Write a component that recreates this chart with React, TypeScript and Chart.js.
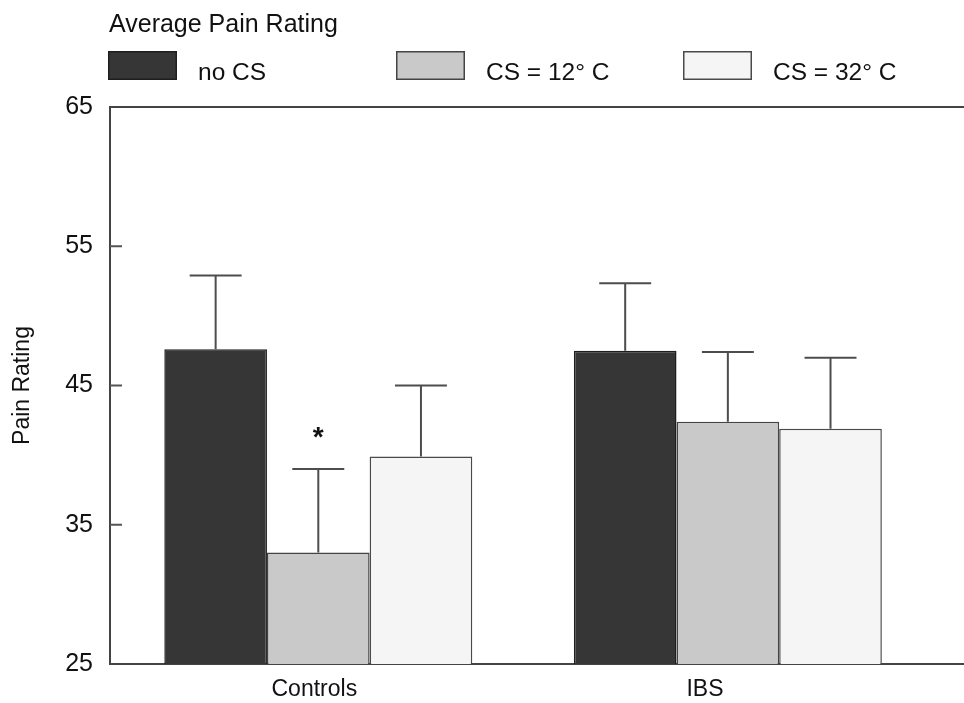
import { useEffect, useRef } from "react";
import { Chart, registerables } from "chart.js";

Chart.register(...registerables);

const groups = ["Controls", "IBS"];
const seriesNames = ["no CS", "CS = 12° C", "CS = 32° C"];
const noCS = [47.6, 47.5];
const cs12 = [33.0, 42.4];
const cs32 = [39.9, 41.9];
const noCSErr = [52.9, 52.35];
const cs12Err = [39.0, 47.4];
const cs32Err = [45.0, 47.0];
const noCSMarks = ["", ""];
const cs12Marks = ["*", ""];
const cs32Marks = ["", ""];
const yTicks = [25, 35, 45, 55, 65];
const chartTitle = "Average Pain Rating";
const yTitle = "Pain Rating";

const FONT = "'Liberation Sans', Arial, Helvetica, sans-serif";
const fills = ["#363636", "#c9c9c9", "#f5f5f5"];
const borders = ["#1e1e1e", "#444444", "#4a4a4a"];

const errorBarPlugin = {
  id: "errorBars",
  afterDatasetsDraw(chart: any) {
    const { ctx } = chart;
    const yScale = chart.scales.y;
    chart.data.datasets.forEach((ds: any, di: number) => {
      const meta = chart.getDatasetMeta(di);
      meta.data.forEach((bar: any, i: number) => {
        const top = yScale.getPixelForValue(ds.errTop[i]);
        const half = bar.width * 0.253;
        ctx.save();
        ctx.strokeStyle = "#4d4d4d";
        ctx.lineWidth = 2;
        ctx.beginPath();
        ctx.moveTo(bar.x, bar.y);
        ctx.lineTo(bar.x, top);
        ctx.moveTo(bar.x - half, top);
        ctx.lineTo(bar.x + half, top);
        ctx.stroke();
        const mark = ds.marks[i];
        if (mark) {
          ctx.fillStyle = "#111";
          ctx.font = `bold 28px ${FONT}`;
          ctx.textAlign = "center";
          ctx.textBaseline = "alphabetic";
          ctx.fillText(mark, bar.x, top - 23);
        }
        ctx.restore();
      });
    });
  },
};

const frameAndLegendPlugin = {
  id: "frameLegend",
  afterDraw(chart: any) {
    const { ctx, chartArea } = chart;
    const yScale = chart.scales.y;
    ctx.save();
    // inward tick marks
    ctx.strokeStyle = "#555";
    ctx.lineWidth = 2;
    ctx.beginPath();
    yScale.ticks.forEach((t: any) => {
      if (t.value === yScale.min || t.value === yScale.max) return;
      const py = yScale.getPixelForValue(t.value);
      ctx.moveTo(chartArea.left, py);
      ctx.lineTo(chartArea.left + 12, py);
    });
    ctx.stroke();

    // title
    ctx.fillStyle = "#111";
    ctx.font = `25px ${FONT}`;
    ctx.textAlign = "left";
    ctx.textBaseline = "alphabetic";
    ctx.fillText(chartTitle, chartArea.left - 1, 32);

    // legend
    const cols = [-2, 286, 573];
    chart.data.datasets.forEach((ds: any, di: number) => {
      const bx = chartArea.left + cols[di];
      const by = 51;
      ctx.fillStyle = ds.backgroundColor;
      ctx.fillRect(bx, by, 69, 29);
      ctx.strokeStyle = ds.borderColor;
      ctx.lineWidth = 1.5;
      ctx.strokeRect(bx + 0.75, by + 0.75, 67.5, 27.5);
      ctx.fillStyle = "#111";
      ctx.font = `24.5px ${FONT}`;
      ctx.fillText(ds.label, bx + 90, 80);
    });
    ctx.restore();
  },
};

export default function App() {
  const ref = useRef<HTMLCanvasElement | null>(null);

  useEffect(() => {
    if (!ref.current) return;
    const series = [noCS, cs12, cs32];
    const errs = [noCSErr, cs12Err, cs32Err];
    const marks = [noCSMarks, cs12Marks, cs32Marks];
    const chart = new Chart(ref.current, {
      type: "bar",
      data: {
        datasets: series.map((vals, si) => ({
          label: seriesNames[si],
          data: vals.map((v, i) => ({ x: i, y: v })),
          errTop: errs[si],
          marks: marks[si],
          backgroundColor: fills[si],
          borderColor: borders[si],
          borderWidth: 1.5,
          categoryPercentage: 0.752,
          barPercentage: 1,
          xAxisID: "x",
          yAxisID: "y",
        })) as any,
      },
      options: {
        responsive: false,
        animation: false,
        layout: { padding: { top: 107, left: 0, right: 0, bottom: 0 } },
        plugins: {
          legend: { display: false },
          tooltip: { enabled: false },
          title: { display: false },
        },
        scales: {
          x: {
            type: "linear",
            display: false,
            min: -0.5086,
            max: 1.5766,
            offset: false,
            afterBuildTicks: (s: any) => {
              s.ticks = groups.map((_, i) => ({ value: i }));
            },
          },
          xl: {
            type: "linear",
            axis: "x",
            position: "bottom",
            min: -0.523,
            max: 1.663,
            offset: false,
            afterBuildTicks: (s: any) => {
              s.ticks = groups.map((_, i) => ({ value: i }));
            },
            ticks: {
              callback: (v: any) => groups[Math.round(Number(v))],
              font: { size: 23, family: FONT },
              color: "#111",
              padding: 12,
              maxRotation: 0,
              autoSkip: false,
            },
            grid: { display: false, drawTicks: false },
            border: { display: true, color: "#444", width: 2 },
            afterFit: (s: any) => {
              s.height = 39;
            },
          },
          y: {
            type: "linear",
            min: 25,
            max: 65,
            afterBuildTicks: (s: any) => {
              s.ticks = yTicks.map((v) => ({ value: v }));
            },
            ticks: {
              font: { size: 25, family: FONT },
              color: "#111",
              padding: 17,
            },
            grid: {
              drawTicks: false,
              lineWidth: 2,
              color: (c: any) =>
                c.tick && c.tick.value === 65 ? "#444" : "rgba(0,0,0,0)",
            },
            border: { display: true, color: "#444", width: 2 },
            title: {
              display: true,
              text: yTitle,
              font: { size: 23, family: FONT },
              color: "#111",
              padding: { top: 9, bottom: 0 },
            },
            afterFit: (s: any) => {
              s.width = 110;
            },
          },
        },
      } as any,
      plugins: [errorBarPlugin, frameAndLegendPlugin],
    });
    return () => chart.destroy();
  }, []);

  return (
    <div
      style={{
        position: "fixed",
        left: 0,
        top: 0,
        width: 964,
        height: 703,
        background: "#fff",
      }}
    >
      <canvas ref={ref} width={964} height={703} style={{ display: "block" }} />
    </div>
  );
}
